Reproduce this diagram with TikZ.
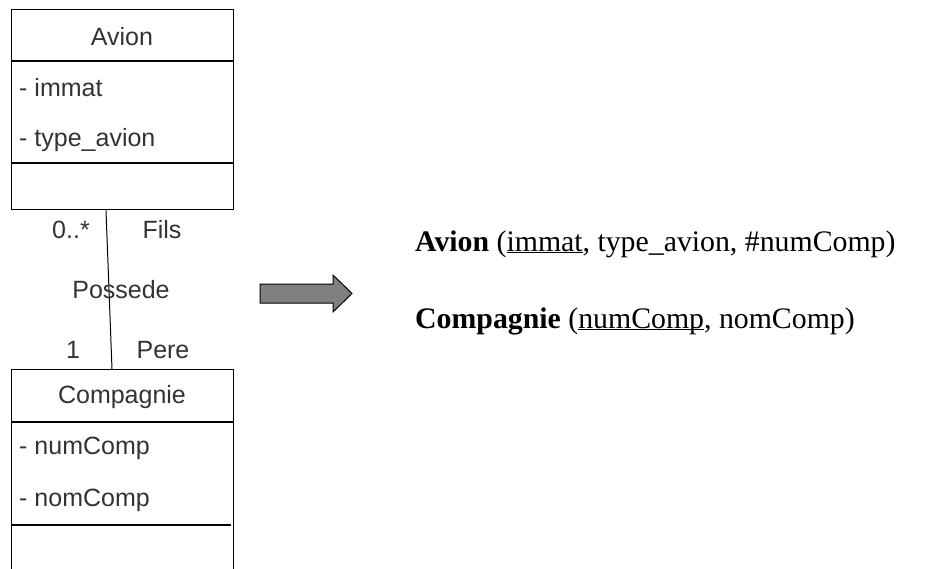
\documentclass[tikz,border=0pt]{standalone}
\usepackage{fontspec}
\setmainfont{Liberation Serif}
\newfontfamily\umlfont{Liberation Sans}
\usetikzlibrary{calc}
\definecolor{umltext}{HTML}{333333}
% underline that sits just under the baseline, through descenders
\newcommand\keyattr[1]{\underline{\smash{#1}}}
\begin{document}
\begin{tikzpicture}[x=1pt,y=-1pt,
  classbox/.style={draw=black, line width=1.4pt, anchor=north west, minimum width=222pt, inner sep=0pt},
  umllabel/.style={font=\umlfont\fontsize{25}{28}\selectfont, text=umltext, inner sep=0pt},
  attr/.style={umllabel, anchor=west},
  reltext/.style={font=\fontsize{29.8}{34}\selectfont, text=black, inner sep=0pt, anchor=base west}]
\useasboundingbox (0,0) rectangle (952,568);
\clip (0,0) rectangle (952,568);

% class Avion
\node[classbox, minimum height=200pt] (avion) at (11,9) {};
\draw[line width=1.4pt] (11,61) -- (233,61);
\draw[line width=1.4pt] (11,163) -- (233,163);
\node[umllabel] (avionname) at (122,37) {Avion};
\node[attr] (immat) at (19,88) {- immat};
\node[attr] (typeavion) at (19,140) {- type\_avion};

% class Compagnie
\node[classbox, minimum height=230pt] (comp) at (11,369) {};
\draw[line width=1.4pt] (11,422) -- (233,422);
\draw[line width=1.4pt] (11,525) -- (231,525);
\node[umllabel] (compname) at (122,397) {Compagnie};
\node[attr] (numcomp) at (19,448) {- numComp};
\node[attr] (nomcomp) at (19,500) {- nomComp};

% association Possede
\draw[line width=1pt] ($(avion.south west)+(95,0)$) coordinate (assoctop)
  -- ($(comp.north west)+(101,0)$) coordinate (assocbot);
\node[umllabel] (multtop) at (71,230) {0..*};
\node[umllabel] (roletop) at (162,230) {Fils};
\node[umllabel] (assocname) at (121,290) {Possede};
\node[umllabel] (multbot) at (73,350) {1};
\node[umllabel] (rolebot) at (163,350) {Pere};

% transformation arrow
\draw[line width=1pt, fill=black!50]
  (260,284) -- (333,284) -- (333,275) -- (352,293.5) -- (333,312)
  -- (333,303) -- (260,303) -- cycle;

% relational schema
\node[reltext] (relavion) at (415,251)
  {\textbf{Avion} (\keyattr{immat}, type\_avion, \#numComp)};
\node[reltext] (relcomp) at (415,328)
  {\textbf{Compagnie} (\keyattr{numComp}, nomComp)};
\end{tikzpicture}
\end{document}
